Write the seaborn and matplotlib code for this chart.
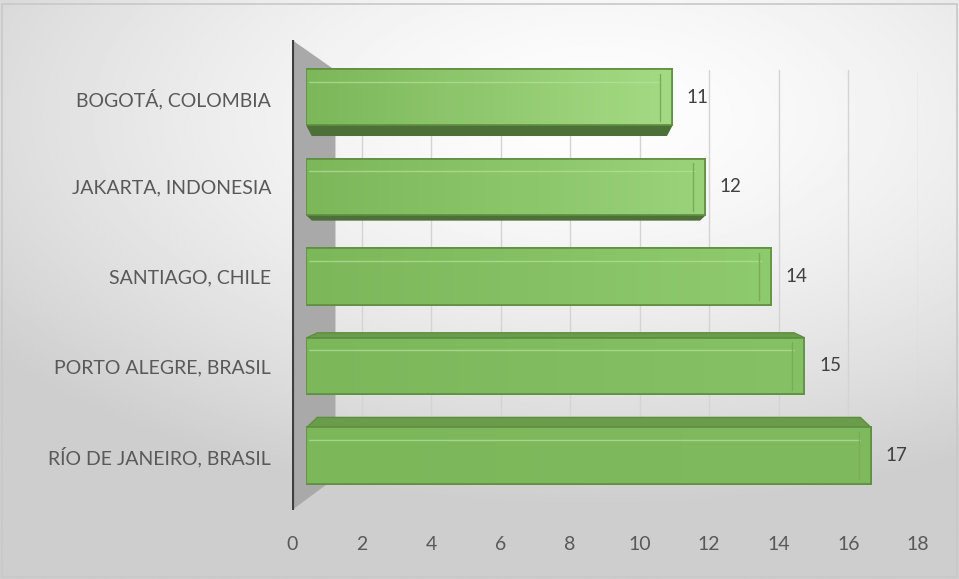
import numpy as np
import pandas as pd
import matplotlib.pyplot as plt
import seaborn as sns
from matplotlib.patches import Polygon, Rectangle
from matplotlib.colors import LinearSegmentedColormap

# data
cities = ["BOGOTÁ, COLOMBIA", "JAKARTA, INDONESIA", "SANTIAGO, CHILE",
          "PORTO ALEGRE, BRASIL", "RÍO DE JANEIRO, BRASIL"]
values = [11, 12, 14, 15, 17]
x_ticks = [0, 2, 4, 6, 8, 10, 12, 14, 16, 18]

df = pd.DataFrame({"city": cities, "value": values})

sns.set_theme(style="white")
plt.rcParams['font.family'] = ['Lato', 'DejaVu Sans']

fig = plt.figure(figsize=(9.59, 5.79), dpi=100)

# soft grey gradient background
bg = fig.add_axes([0, 0, 1, 1])
yy, xx = np.mgrid[0:1:300j, 0:1:500j]
dist = np.sqrt(((xx - 0.62) / 1.0) ** 2 + ((yy - 0.2) / 0.85) ** 2)
shade = 0.995 - 0.19 * np.clip(dist / 0.8, 0, 1) ** 1.5
bg.imshow(shade, cmap="gray", vmin=0, vmax=1, aspect="auto", extent=[0, 1, 1, 0])
bg.set_axis_off()
fig.patches.append(Rectangle((0.002, 0.003), 0.996, 0.99, transform=fig.transFigure,
                             fill=False, edgecolor="#c8c8c8", lw=1.2))

ax = fig.add_axes([0.3045, 0.119, 0.6525, 0.812])
ax.patch.set_alpha(0)

# back wall grid lines
for t in x_ticks[1:]:
    ax.plot([t, t], [-0.3, 4.3], color="#d4d4d4", lw=1, zorder=0)

# left wall
wall = Polygon([(0, -0.64), (1.25, -0.3), (1.25, 4.25), (0, 4.61)],
               closed=True, facecolor="#a9a9a9", edgecolor="none", zorder=1)
ax.add_patch(wall)
ax.plot([0, 0], [-0.64, 4.61], color="#3f3f3f", lw=3, zorder=2, solid_capstyle="butt")

n_before = len(ax.patches)
sns.barplot(data=df, x="value", y="city", orient="h", color="#8cc66b",
            width=0.63, edgecolor="#5e8f40", linewidth=1.2, saturation=1,
            ax=ax, zorder=3)
bars = ax.patches[n_before:]

# fake 3d: shift and scale the front faces, add side faces
for i, (p, v) in enumerate(zip(bars, values)):
    x0 = 0.43
    x1 = x0 + 0.954 * v
    p.set_x(x0)
    p.set_width(x1 - x0)
    y0 = p.get_y()
    h = p.get_height()
    d = 0.055 * abs(i - 2)

    # left-to-right gradient on the front face, lighter for upper bars
    light = ["#a6dc86", "#9bd47b", "#8fcb6f", "#86c166", "#80ba5f"][i]
    cmap = LinearSegmentedColormap.from_list("g", ["#7cb75a", light])
    grad = np.linspace(0, 1, 200).reshape(1, -1)
    im = ax.imshow(grad, cmap=cmap, aspect="auto", extent=[x0, x1, y0 + h, y0],
                   zorder=3.1, alpha=0.95)
    im.set_clip_path(p)
    ax.plot([x0, x1], [y0, y0], color="#5e8f40", lw=1.2, zorder=3.3)
    ax.plot([x0, x1], [y0 + h, y0 + h], color="#5e8f40", lw=1.2, zorder=3.3)
    ax.plot([x1, x1], [y0, y0 + h], color="#5e8f40", lw=1.2, zorder=3.3)

    # light bevel line near the top edge
    ax.plot([x0 + 0.05, x1 - 0.3], [y0 + 0.14, y0 + 0.14], color="#b4e39a", lw=1, alpha=0.7, zorder=4)
    if i < 2:
        face = Polygon([(x0, y0 + h), (x1, y0 + h), (x1 - 0.15, y0 + h + d), (x0 + 0.15, y0 + h + d)],
                       facecolor="#4d6f38", edgecolor="#4d6f38", zorder=3)
        ax.add_patch(face)
    elif i > 2:
        face = Polygon([(x0, y0), (x1, y0), (x1 - 0.3, y0 - d), (x0 + 0.3, y0 - d)],
                       facecolor="#6b9c4c", edgecolor="#5e8f40", zorder=3)
        ax.add_patch(face)
    ax.plot([x1 - 0.35, x1 - 0.35], [y0 + 0.05, y0 + h - 0.05], color="#76ad56", lw=1, zorder=4)
    ax.text(x1 + 0.42, i, str(v), ha="left", va="center", fontsize=13.5, color="#404040")

ax.set_xlim(0, 18)
ax.set_ylim(4.61, -0.64)
ax.set_xticks(x_ticks)
ax.set_xticklabels([str(t) for t in x_ticks], fontsize=14, color="#595959")
ax.tick_params(axis="x", length=0, pad=19)
ax.tick_params(axis="y", length=0, pad=15, labelsize=14, labelcolor="#595959")
ax.set_xlabel("")
ax.set_ylabel("")
sns.despine(ax=ax, left=True, bottom=True)

fig.savefig("out.png", dpi=100)
